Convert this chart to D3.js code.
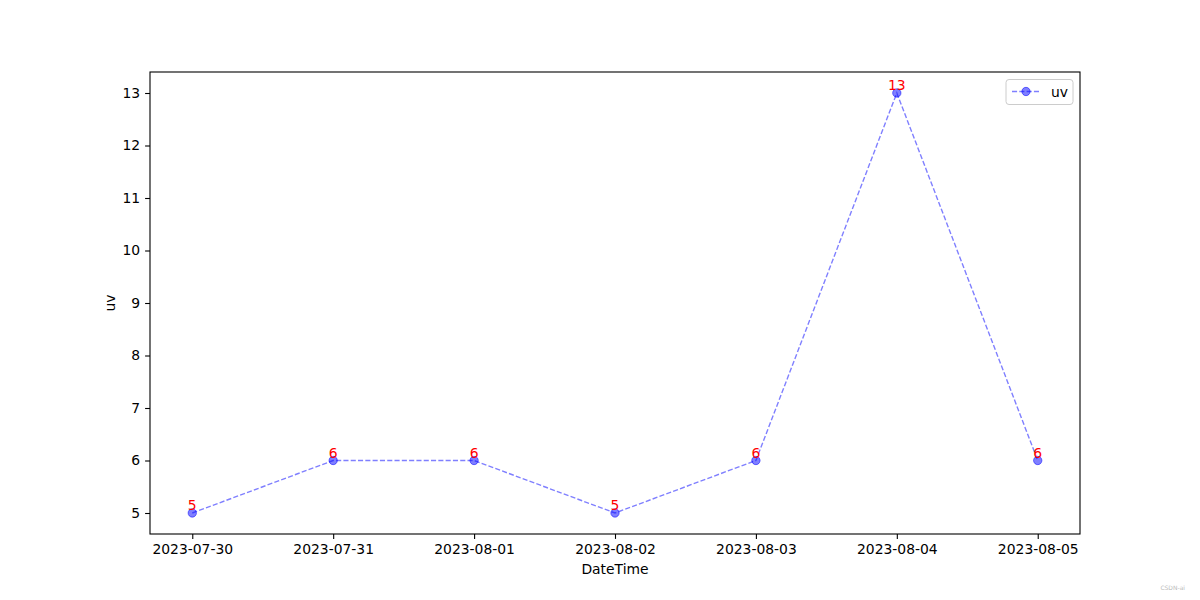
<!DOCTYPE html>
<html><head><meta charset="utf-8">
<script src="https://cdn.jsdelivr.net/npm/d3@7"></script>
<style>body{margin:0;background:#fff;} text{font-family:"DejaVu Sans",sans-serif;}</style>
</head><body>
<svg id="c" width="1200" height="600"></svg>
<script>
const categories = ["2023-07-30","2023-07-31","2023-08-01","2023-08-02","2023-08-03","2023-08-04","2023-08-05"];
const uvValues = [5,6,6,5,6,13,6];
const yTicks = [5,6,7,8,9,10,11,12,13];
const seriesName = "uv";

const svg = d3.select("#c");
const L=150,R=1080,T=72,B=534;
const n = categories.length;
const x = d3.scaleLinear().domain([-0.3, n-1+0.3]).range([L,R]);
const ymin=d3.min(uvValues), ymax=d3.max(uvValues), pad=(ymax-ymin)*0.05;
const y = d3.scaleLinear().domain([ymin-pad, ymax+pad]).range([B,T]);

const fs = "13.9px";
// axes
const xa = d3.axisBottom(x).tickValues(d3.range(n)).tickFormat(i=>categories[i]).tickSizeOuter(0).tickSize(4.9).tickPadding(4.9);
const gx = svg.append("g").attr("transform",`translate(0,${B})`).call(xa);
gx.select(".domain").remove();
gx.selectAll("text").attr("font-size",fs).attr("fill","#000").attr("font-family","DejaVu Sans");
gx.selectAll("line").attr("stroke","#000").attr("stroke-width",1.1);
const ya = d3.axisLeft(y).tickValues(yTicks).tickSizeOuter(0).tickSize(4.9).tickPadding(4.9);
const gy = svg.append("g").attr("transform",`translate(${L},0)`).call(ya);
gy.select(".domain").remove();
gy.selectAll("text").attr("font-size",fs).attr("fill","#000").attr("font-family","DejaVu Sans");
gy.selectAll("line").attr("stroke","#000").attr("stroke-width",1.1);

svg.append("rect").attr("x",L).attr("y",T).attr("width",R-L).attr("height",B-T)
  .attr("fill","none").attr("stroke","#000").attr("stroke-width",1.1);

svg.append("text").attr("x",(L+R)/2).attr("y",574).attr("text-anchor","middle").attr("font-size",fs).text("DateTime");
svg.append("text").attr("transform",`translate(115,${(T+B)/2}) rotate(-90)`).attr("text-anchor","middle").attr("font-size",fs).text("uv");

// line
const line = d3.line().x((d,i)=>x(i)).y(d=>y(d));
svg.append("path").datum(uvValues).attr("d",line).attr("fill","none")
  .attr("stroke","blue").attr("stroke-opacity",0.5).attr("stroke-width",1.39).attr("stroke-dasharray","5.1,2.2");
svg.selectAll("circle.pt").data(uvValues).enter().append("circle").attr("class","pt")
  .attr("cx",(d,i)=>x(i)).attr("cy",d=>y(d)).attr("r",4.17)
  .attr("fill","blue").attr("fill-opacity",0.5).attr("stroke","blue").attr("stroke-opacity",0.5).attr("stroke-width",1);
svg.selectAll("text.lbl").data(uvValues).enter().append("text").attr("class","lbl")
  .attr("x",(d,i)=>x(i)).attr("y",d=>y(d)-3).attr("text-anchor","middle").attr("font-size",fs).attr("fill","red").text(d=>d);

// legend
const lg = svg.append("g");
lg.append("rect").attr("x",1006).attr("y",79.5).attr("width",67).attr("height",25).attr("rx",3)
  .attr("fill","#fff").attr("fill-opacity",0.8).attr("stroke","#ccc").attr("stroke-width",1);
lg.append("line").attr("x1",1012).attr("x2",1040).attr("y1",91.5).attr("y2",91.5)
  .attr("stroke","blue").attr("stroke-opacity",0.5).attr("stroke-width",1.39).attr("stroke-dasharray","5.1,2.2");
lg.append("circle").attr("cx",1026).attr("cy",91.5).attr("r",4.17).attr("fill","blue").attr("fill-opacity",0.5)
  .attr("stroke","blue").attr("stroke-opacity",0.5);
lg.append("text").attr("x",1051).attr("y",96.5).attr("font-size",fs).text(seriesName);

svg.append("text").attr("x",1185).attr("y",590).attr("text-anchor","end").attr("font-size","6px").attr("fill","#bbb").text("CSDN-ai");
</script>
</body></html>
